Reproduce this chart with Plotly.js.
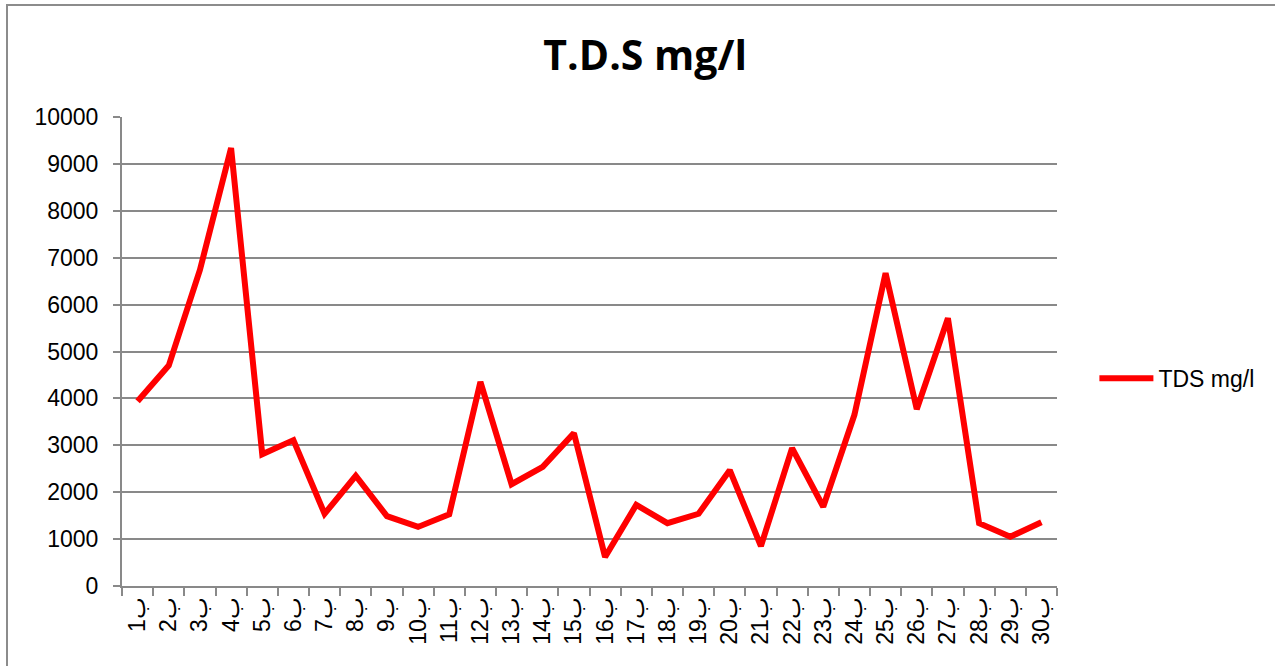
<!DOCTYPE html>
<html>
<head>
<meta charset="utf-8">
<script src="https://cdn.plot.ly/plotly-3.0.1.min.js"></script>
<style>html,body{margin:0;padding:0;background:#fff;}#chart{width:1275px;height:666px;}</style>
</head>
<body>
<div id="chart"></div>
<script>
const sites = [1,2,3,4,5,6,7,8,9,10,11,12,13,14,15,16,17,18,19,20,21,22,23,24,25,26,27,28,29,30];
const tickLabels = sites.map(n => n + "ب");
const tdsValues = [3940,4700,6740,9340,2810,3110,1540,2350,1490,1260,1530,4350,2170,2540,3260,620,1730,1340,1540,2470,850,2940,1690,3650,6670,3770,5710,1340,1050,1360];
const seriesName = "TDS mg/l";
const chartTitle = "T.D.S mg/l";

const font = "Liberation Sans, Arial, sans-serif";
const trace = {
  x: tickLabels,
  y: tdsValues,
  type: "scatter",
  mode: "lines",
  name: seriesName,
  line: {color: "#FF0000", width: 6}
};
const layout = {
  width: 1275, height: 666,
  margin: {l: 122, r: 218, t: 117, b: 80},
  paper_bgcolor: "#ffffff", plot_bgcolor: "#ffffff",
  title: {text: "<b>" + chartTitle + "</b>", font: {family: "Open Sans, sans-serif", size: 41, color: "#000"}, x: 0.506, xanchor: "center", y: 0.916, yanchor: "middle"},
  showlegend: true,
  legend: {x: 1.04, xanchor: "left", y: 0.443, yanchor: "middle", itemwidth: 54, font: {family: font, size: 23, color: "#000"}, bgcolor: "rgba(0,0,0,0)"},
  xaxis: {
    type: "category",
    tickangle: -90,
    tickson: "boundaries",
    ticks: "outside", ticklen: 8, tickcolor: "#898989", tickwidth: 2,
    showline: true, linecolor: "#898989", linewidth: 2,
    showgrid: false,
    tickfont: {family: font, size: 23, color: "#000"},
    range: [-0.5, 29.5]
  },
  yaxis: {
    range: [0, 10000],
    dtick: 1000,
    tickformat: "d",
    ticks: "outside", ticklen: 7, tickcolor: "#898989", tickwidth: 2,
    showline: true, linecolor: "#898989", linewidth: 2,
    showgrid: true, gridcolor: "#898989", gridwidth: 2,
    zeroline: false,
    ticklabelstandoff: 10,
    tickfont: {family: font, size: 23, color: "#000"}
  },
  shapes: [{
    type: "rect", xref: "paper", yref: "paper",
    x0: (7 - 122) / 935, x1: 1.4, y0: -0.3, y1: (586 - 5) / 469,
    line: {color: "#8c8c8c", width: 2}, fillcolor: "rgba(0,0,0,0)", layer: "below"
  }]
};
Plotly.newPlot("chart", [trace], layout, {displayModeBar: false, staticPlot: true});
</script>
</body>
</html>
